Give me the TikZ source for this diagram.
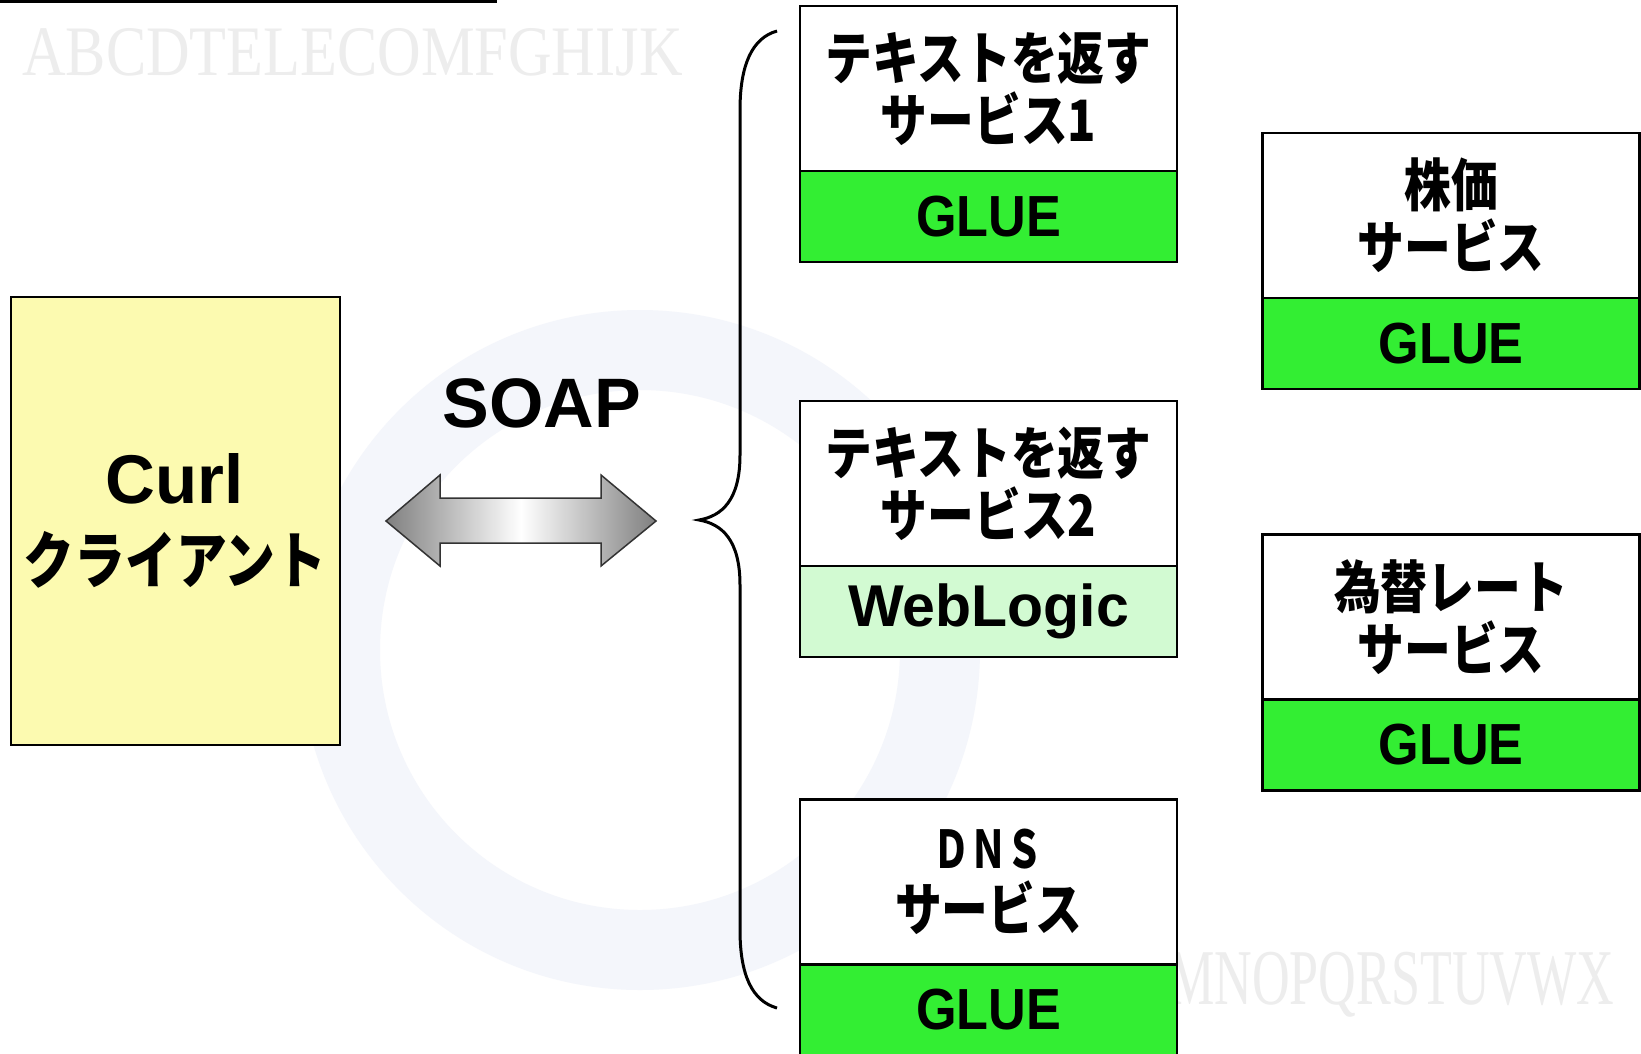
\documentclass[tikz,border=0pt]{standalone}
\usepackage{fontspec}
\setmainfont{Liberation Sans}
\newfontfamily\jpfont{Noto Sans CJK JP}[FakeStretch=0.82]
\newfontfamily\dnsfont{Noto Sans CJK JP}[FakeStretch=0.7]
\newfontfamily\narrowfont{Liberation Sans}[FakeStretch=0.9]
\newfontfamily\bgfont{Liberation Serif}[FakeStretch=0.85]
\newfontfamily\bgnarrow{Liberation Serif}[FakeStretch=0.66]
\usetikzlibrary{positioning}

\definecolor{curlyellow}{HTML}{FCFAB0}
\definecolor{gluegreen}{HTML}{33EE33}
\definecolor{wlgreen}{HTML}{D2FAD2}
\definecolor{bgblue}{HTML}{F4F6FB}

\tikzset{
  svcbox/.style={draw,line width=2.5pt,fill=white,minimum width=377pt,minimum height=165pt,
    inner sep=0pt,outer sep=0pt,align=center,font=\jpfont\bfseries\fontsize{57}{62}\selectfont},
  gluebox/.style={draw,line width=2.5pt,fill=gluegreen,minimum width=377pt,minimum height=91pt,
    inner sep=0pt,outer sep=0pt,font=\narrowfont\bfseries\fontsize{58}{60}\selectfont},
  wlbox/.style={gluebox,fill=wlgreen,font=\bfseries\fontsize{59}{60}\selectfont},
  bgtext/.style={text=black!7,anchor=west,inner sep=0pt,font=\bgfont\fontsize{#1}{#1}\selectfont},
}

\begin{document}
\begin{tikzpicture}[x=1pt,y=-1pt]
  \useasboundingbox (0,0) rectangle (1641,1053);
  \fill[white] (0,0) rectangle (1641,1053);

  % faint background
  \draw[bgblue,line width=80pt] (640,650) circle[radius=300pt];
  \node[bgtext=71] (bg1) at (22,52) {ABCDTELECOMFGHIJK};
  \node[bgtext=79,font=\bgnarrow\fontsize{79}{79}\selectfont] (bg3) at (1168,985) {MNOPQRSTUVWX};
  \draw[line width=3pt] (0,1.5) -- (497,1.5);

  % client
  \node[draw,line width=2pt,fill=curlyellow,minimum width=329pt,minimum height=448pt,
    inner sep=0pt,outer sep=0pt,align=center,font=\fontsize{62}{80}\selectfont] (curl) at (175,521)
    {{\bfseries\fontsize{69}{80}\selectfont Curl}\\
     {\jpfont\bfseries\fontsize{62}{80}\selectfont クライアント}};

  \node[font=\bfseries\fontsize{70}{72}\selectfont] (soap) at (542,403) {SOAP};
  \draw[draw=black!80,line width=1.5pt,left color=black!50,right color=black!50,middle color=white]
    (386,521) -- (440,475) -- (440,498) -- (601,498) -- (601,475) -- (656,521)
    -- (601,566) -- (601,543) -- (440,543) -- (440,566) -- cycle;

  % brace
  \draw[line width=3pt] (777,31) .. controls (752,38) and (740,65) .. (740,110) -- (740,455)
    .. controls (740,500) and (722,516) .. (699,520)
    .. controls (722,524) and (740,540) .. (740,585) -- (740,930)
    .. controls (740,975) and (752,1001) .. (777,1008);

  % services
  \node[svcbox] (txt1) at (988.5,88.5) {テキストを返す\\サービス1};
  \node[gluebox,below=0pt of txt1] (glue1) {GLUE};
  \node[svcbox] (txt2) at (988.5,483.5) {テキストを返す\\サービス2};
  \node[wlbox,below=0pt of txt2] (wl2) {WebLogic};
  \node[svcbox] (dns) at (988.5,882)
    {{\dnsfont\fontsize{52}{62}\selectfont ＤＮＳ}\\サービス};
  \node[gluebox,below=0pt of dns] (glue3) {GLUE};

  \node[svcbox] (stock) at (1451,215.5) {株価\\サービス};
  \node[gluebox,below=0pt of stock] (glue4) {GLUE};
  \node[svcbox] (fx) at (1451,617) {為替レート\\サービス};
  \node[gluebox,below=0pt of fx] (glue5) {GLUE};
\end{tikzpicture}
\end{document}
